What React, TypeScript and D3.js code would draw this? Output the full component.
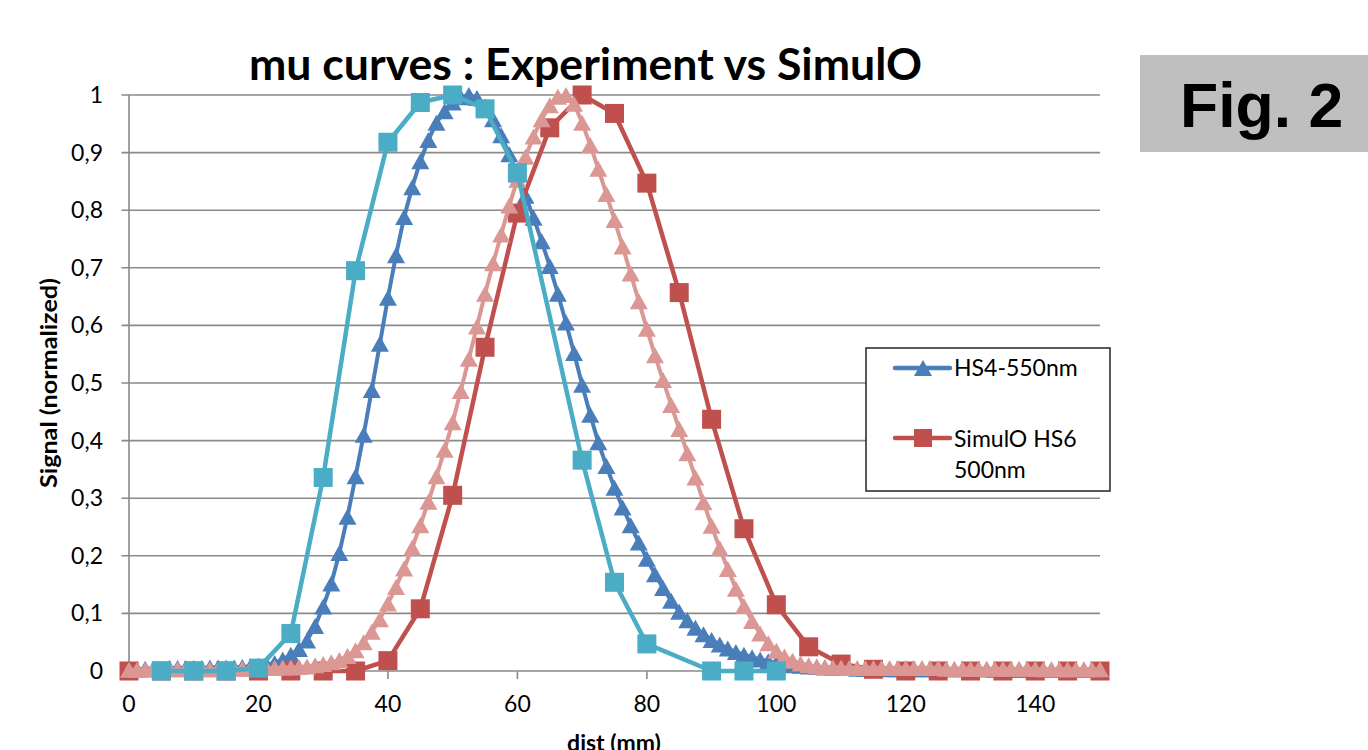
import React from "react";
import * as d3 from "d3";

// ---------- data ----------
const TITLE = "mu curves : Experiment vs SimulO";
const X_LABEL = "dist (mm)";
const Y_LABEL = "Signal (normalized)";
const X_TICKS = [0, 20, 40, 60, 80, 100, 120, 140];
const Y_TICKS = [0, 0.1, 0.2, 0.3, 0.4, 0.5, 0.6, 0.7, 0.8, 0.9, 1];
const formatY = (v: number) => (v === 0 || v === 1 ? String(v) : v.toFixed(1).replace(".", ","));

// fine sampling (1.25 mm) shared by the two triangle series
const fineDist = d3.range(0, 150.0001, 1.25);

const hs4Values = [
  0.0, 0.003, 0.004, 0.004, 0.004, 0.005, 0.005, 0.005, 0.005, 0.005,
  0.006, 0.006, 0.006, 0.006, 0.007, 0.008, 0.009, 0.011, 0.014, 0.02,
  0.028, 0.038, 0.053, 0.078, 0.112, 0.152, 0.205, 0.268, 0.338, 0.41,
  0.488, 0.568, 0.648, 0.722, 0.788, 0.84, 0.885, 0.922, 0.952, 0.972,
  0.987, 0.996, 1.0, 0.995, 0.98, 0.958, 0.93, 0.897, 0.862, 0.825,
  0.787, 0.746, 0.703, 0.655, 0.605, 0.552, 0.497, 0.445, 0.397, 0.356,
  0.318, 0.284, 0.253, 0.223, 0.195, 0.168, 0.144, 0.122, 0.103, 0.088,
  0.075, 0.064, 0.054, 0.046, 0.039, 0.033, 0.028, 0.024, 0.02, 0.017,
  0.014, 0.012, 0.01, 0.009, 0.008, 0.007, 0.006, 0.006, 0.005, 0.005,
  0.004, 0.004, 0.004, 0.004, 0.003, 0.003, 0.003, 0.003, 0.003, 0.003,
  0.003, 0.003, 0.003, 0.003, 0.003, 0.003, 0.003, 0.002, 0.002, 0.002,
  0.002, 0.002, 0.002, 0.002, 0.002, 0.002, 0.002, 0.002, 0.002, 0.002,
  0.002,
];

const simFineValues = [
  0.002, 0.002, 0.002, 0.003, 0.003, 0.003, 0.003, 0.003, 0.003, 0.003,
  0.003, 0.003, 0.004, 0.004, 0.004, 0.004, 0.004, 0.005, 0.005, 0.006,
  0.006, 0.007, 0.008, 0.01, 0.012, 0.015, 0.019, 0.026, 0.036, 0.05,
  0.068, 0.09, 0.117, 0.146, 0.178, 0.214, 0.253, 0.294, 0.338, 0.384,
  0.432, 0.486, 0.542, 0.598, 0.655, 0.708, 0.758, 0.808, 0.853, 0.893,
  0.928, 0.958, 0.982, 0.997, 1.0, 0.985, 0.952, 0.913, 0.872, 0.828,
  0.783, 0.737, 0.69, 0.642, 0.594, 0.548, 0.505, 0.462, 0.42, 0.378,
  0.336, 0.293, 0.252, 0.213, 0.177, 0.143, 0.113, 0.087, 0.065, 0.048,
  0.035, 0.025, 0.018, 0.013, 0.01, 0.008, 0.007, 0.006, 0.006, 0.005,
  0.005, 0.005, 0.005, 0.005, 0.005, 0.005, 0.005, 0.005, 0.005, 0.005,
  0.005, 0.004, 0.004, 0.004, 0.004, 0.004, 0.004, 0.004, 0.004, 0.004,
  0.004, 0.004, 0.004, 0.003, 0.003, 0.003, 0.003, 0.003, 0.003, 0.003,
  0.003,
];

const expDist = [5, 10, 15, 20, 25, 30, 35, 40, 45, 50, 55, 60, 70, 75, 80, 90, 95, 100];
const expValues = [0, 0, 0, 0.005, 0.065, 0.336, 0.695, 0.918, 0.987, 1.0, 0.976, 0.865, 0.366, 0.154, 0.047, 0, 0, 0];

const simDist = d3.range(0, 150.0001, 5);
const simValues = [
  0, 0, 0, 0, 0, 0, 0, 0, 0.018, 0.108, 0.305, 0.562, 0.795, 0.943, 1.0, 0.968,
  0.847, 0.657, 0.437, 0.247, 0.115, 0.042, 0.012, 0.003, 0, 0, 0, 0, 0, 0, 0,
];

const LEGEND = ["HS4-550nm", "SimulO HS6", "500nm"];

// ---------- styles ----------
const C_BLUE = "#4a7ebb";
const C_RED = "#c0504d";
const C_PINK = "#da9794";
const C_CYAN = "#4bacc6";
const C_GRID = "#8a8a8a";
const FONT = "Lato, 'Open Sans', sans-serif";

const W = 1368;
const H = 750;
const x = d3.scaleLinear().domain([0, 150]).range([129, 1100]);
const y = d3.scaleLinear().domain([0, 1]).range([671, 95]);

type Pt = [number, number];
const zip = (xs: number[], ys: number[]): Pt[] => xs.map((d, i) => [d, ys[i]] as Pt);
const line = d3
  .line<Pt>()
  .x((d) => x(d[0]))
  .y((d) => y(d[1]));

const tri = (cx: number, cy: number, w = 18, h = 16) =>
  `M${cx},${cy - h / 2}L${cx + w / 2},${cy + h / 2}L${cx - w / 2},${cy + h / 2}Z`;

function TriSeries({ pts, color, width }: { pts: Pt[]; color: string; width: number }) {
  return (
    <g>
      <path d={line(pts) || ""} fill="none" stroke={color} strokeWidth={width} strokeLinejoin="round" />
      {pts.map((p, i) => (
        <path key={i} d={tri(x(p[0]), y(p[1]))} fill={color} />
      ))}
    </g>
  );
}

function SqSeries({ pts, color, width, s = 19 }: { pts: Pt[]; color: string; width: number; s?: number }) {
  return (
    <g>
      <path d={line(pts) || ""} fill="none" stroke={color} strokeWidth={width} strokeLinejoin="round" />
      {pts.map((p, i) => (
        <rect key={i} x={x(p[0]) - s / 2} y={y(p[1]) - s / 2} width={s} height={s} fill={color} />
      ))}
    </g>
  );
}

export default function App() {
  const hs4 = zip(fineDist, hs4Values);
  const simFine = zip(fineDist, simFineValues);
  const exp = zip(expDist, expValues);
  const sim = zip(simDist, simValues);
  const [x0, x1] = x.range();
  return (
    <svg
      width={W}
      height={H}
      viewBox={`0 0 ${W} ${H}`}
      style={{ position: "absolute", left: 0, top: 0, background: "#fff" }}
      fontFamily={FONT}
    >
      <rect x={0} y={0} width={W} height={H} fill="#fff" />
      {/* gridlines */}
      {Y_TICKS.map((t) => (
        <line key={t} x1={x0 - 7.5} x2={x1} y1={y(t)} y2={y(t)} stroke={C_GRID} strokeWidth={1.6} />
      ))}
      {/* axes */}
      <line x1={x0} x2={x0} y1={y(1)} y2={y(0)} stroke={C_GRID} strokeWidth={1.6} />
      {X_TICKS.map((t) => (
        <line key={t} x1={x(t)} x2={x(t)} y1={y(0)} y2={y(0) + 8} stroke={C_GRID} strokeWidth={1.6} />
      ))}
      {/* tick labels */}
      {Y_TICKS.map((t) => (
        <text key={t} x={103} y={y(t) + 8} textAnchor="end" fontSize={23} fill="#000">
          {formatY(t)}
        </text>
      ))}
      {X_TICKS.map((t) => (
        <text key={t} x={x(t)} y={712} textAnchor="middle" fontSize={23} fill="#000">
          {t}
        </text>
      ))}
      {/* series */}
      <TriSeries pts={hs4} color={C_BLUE} width={4} />
      <SqSeries pts={sim} color={C_RED} width={4.5} />
      <TriSeries pts={simFine} color={C_PINK} width={4} />
      <SqSeries pts={exp} color={C_CYAN} width={4.5} s={19} />
      {/* title */}
      <text x={249} y={80} fontSize={44} fontWeight={700} textLength={673} lengthAdjust="spacingAndGlyphs" fill="#000">
        {TITLE}
      </text>
      {/* axis titles */}
      <text
        transform="translate(57,383) rotate(-90)"
        textAnchor="middle"
        fontSize={22}
        fontWeight={700}
        textLength={210}
        lengthAdjust="spacingAndGlyphs"
        fill="#000"
      >
        {Y_LABEL}
      </text>
      <text x={614} y={751} textAnchor="middle" fontSize={23} fontWeight={700} fill="#000">
        {X_LABEL}
      </text>
      {/* legend */}
      <rect x={866} y={348} width={244} height={143} fill="#fff" stroke="#222" strokeWidth={1.5} />
      <line x1={895} x2={950} y1={368} y2={368} stroke={C_BLUE} strokeWidth={4.5} strokeLinecap="round" />
      <path d={tri(923, 368)} fill={C_BLUE} />
      <text x={954} y={376} fontSize={23} fill="#000">
        {LEGEND[0]}
      </text>
      <line x1={895} x2={950} y1={438} y2={438} stroke={C_RED} strokeWidth={4.5} strokeLinecap="round" />
      <rect x={914} y={429} width={18} height={18} fill={C_RED} />
      <text x={954} y={447} fontSize={23} fill="#000">
        {LEGEND[1]}
      </text>
      <text x={954} y={478} fontSize={23} fill="#000">
        {LEGEND[2]}
      </text>
      {/* figure tag */}
      <rect x={1140} y={55} width={228} height={97} fill="#bfbfbf" />
      <text x={1180} y={127} fontFamily="'Liberation Sans', Arial, sans-serif" fontWeight={700} fontSize={62.5} fill="#000">
        Fig. 2
      </text>
    </svg>
  );
}
